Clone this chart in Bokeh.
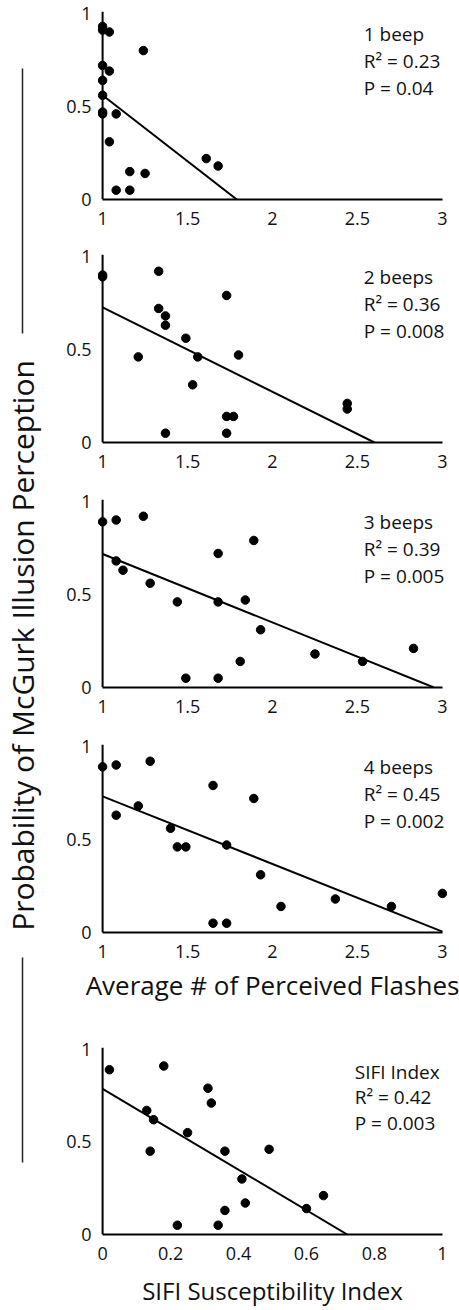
import math
from bokeh.plotting import figure
from bokeh.models import Range1d, FixedTicker, NumeralTickFormatter, Label, Span
from bokeh.layouts import row, column
from bokeh.embed import file_html
from bokeh.resources import INLINE

# ---------------- data ----------------
x_flash_ticks = [1, 1.5, 2, 2.5, 3]
x_sifi_ticks = [0, 0.2, 0.4, 0.6, 0.8, 1]
y_ticks = [0, 0.5, 1]

# 1 beep
x1 = [1.0, 1.0, 1.04, 1.24, 1.0, 1.04, 1.0, 1.0, 1.0, 1.0, 1.08, 1.04, 1.61, 1.68, 1.16, 1.25, 1.08, 1.16]
y1 = [0.93, 0.91, 0.90, 0.80, 0.72, 0.69, 0.64, 0.56, 0.47, 0.46, 0.46, 0.31, 0.22, 0.18, 0.15, 0.14, 0.05, 0.05]
fit1_x = [1.0, 1.79]
fit1_y = [0.56, 0.0]

# 2 beeps
x2 = [1.0, 1.0, 1.33, 1.73, 1.33, 1.37, 1.37, 1.49, 1.21, 1.56, 1.80, 1.53, 1.73, 1.77, 1.37, 1.73, 2.44, 2.44]
y2 = [0.90, 0.89, 0.92, 0.79, 0.72, 0.68, 0.63, 0.56, 0.46, 0.46, 0.47, 0.31, 0.14, 0.14, 0.05, 0.05, 0.21, 0.18]
fit2_x = [1.0, 2.60]
fit2_y = [0.726, 0.0]

# 3 beeps
x3 = [1.0, 1.08, 1.24, 1.89, 1.68, 1.08, 1.12, 1.28, 1.44, 1.68, 1.84, 1.93, 2.25, 1.81, 1.49, 1.68, 2.53, 2.83]
y3 = [0.89, 0.90, 0.92, 0.79, 0.72, 0.68, 0.63, 0.56, 0.46, 0.46, 0.47, 0.31, 0.18, 0.14, 0.05, 0.05, 0.14, 0.21]
fit3_x = [1.0, 2.95]
fit3_y = [0.717, 0.0]

# 4 beeps
x4 = [1.0, 1.08, 1.28, 1.65, 1.89, 1.21, 1.08, 1.40, 1.44, 1.49, 1.73, 1.93, 2.05, 2.37, 1.65, 1.73, 2.70, 3.0]
y4 = [0.89, 0.90, 0.92, 0.79, 0.72, 0.68, 0.63, 0.56, 0.46, 0.46, 0.47, 0.31, 0.14, 0.18, 0.05, 0.05, 0.14, 0.21]
fit4_x = [1.0, 3.0]
fit4_y = [0.731, 0.005]

# SIFI index
x5 = [0.02, 0.18, 0.31, 0.32, 0.13, 0.15, 0.25, 0.14, 0.36, 0.49, 0.41, 0.42, 0.36, 0.60, 0.65, 0.22, 0.34]
y5 = [0.89, 0.91, 0.79, 0.71, 0.67, 0.62, 0.55, 0.45, 0.45, 0.46, 0.30, 0.17, 0.13, 0.14, 0.21, 0.05, 0.05]
fit5_x = [0.0, 0.72]
fit5_y = [0.787, 0.0]

notes1 = ["1 beep", "R\u00b2 = 0.23", "P = 0.04"]
notes2 = ["2 beeps", "R\u00b2 = 0.36", "P = 0.008"]
notes3 = ["3 beeps", "R\u00b2 = 0.39", "P = 0.005"]
notes4 = ["4 beeps", "R\u00b2 = 0.45", "P = 0.002"]
notes5 = ["SIFI Index", "R\u00b2 = 0.42", "P = 0.003"]

y_title = "Probability of McGurk Illusion Perception"
x_title_flash = "Average # of Perceived Flashes"
x_title_sifi = "SIFI Susceptibility Index"

FONT = "Open Sans"
INK = "#111111"
LEFT_W = 46


def panel(xs, ys, fx, fy, xr, xt, pad, notes, note_x, note_ys,
          top, frame_h, bottom, xlabel=None, xlabel_size="26px", xlabel_standoff=6):
    p = figure(width=459 - LEFT_W, height=top + frame_h + bottom,
               x_range=Range1d(xr[0] - pad, xr[1] + pad),
               y_range=Range1d(0, 1.01),
               min_border_left=97 - LEFT_W, min_border_right=459 - LEFT_W - (97 - LEFT_W) - 350,
               min_border_top=top, min_border_bottom=bottom,
               output_backend="svg", toolbar_location=None)
    p.xgrid.visible = False
    p.ygrid.visible = False
    p.outline_line_color = None
    p.background_fill_color = "white"
    p.border_fill_color = "white"

    xa = p.xaxis[0]
    xa.ticker = FixedTicker(ticks=xt)
    xa.formatter = NumeralTickFormatter(format="0.[0]")
    xa.bounds = (xr[0], xr[1])
    ya = p.yaxis[0]
    ya.ticker = FixedTicker(ticks=y_ticks)
    ya.formatter = NumeralTickFormatter(format="0.[0]")
    ya.axis_line_color = None
    for ax in (xa, ya):
        ax.major_tick_out = 0
        ax.major_tick_in = 0
        ax.minor_tick_out = 0
        ax.minor_tick_in = 0
        ax.major_label_text_font = FONT
        ax.major_label_text_font_size = "18px"
        ax.major_label_text_color = INK
    xa.axis_line_width = 2
    xa.axis_line_color = "black"
    xa.major_label_standoff = 12
    ya.major_label_standoff = 6
    if xlabel:
        xa.axis_label = xlabel
        xa.axis_label_text_font = FONT
        xa.axis_label_text_font_size = xlabel_size
        xa.axis_label_text_font_style = "normal"
        xa.axis_label_text_color = INK
        xa.axis_label_standoff = xlabel_standoff

    # vertical axis line at the start of the x scale
    p.add_layout(Span(location=xr[0], dimension="height", line_width=2, line_color="black"))

    p.line(fx, fy, line_width=2, color="black")
    p.scatter(xs, ys, size=8.5, color="black")

    for t, yy in zip(notes, note_ys):
        p.add_layout(Label(x=note_x, y=yy, text=t, text_font=FONT,
                           text_font_size="19px", text_baseline="middle",
                           text_color=INK))
    return p


note_y = [0.887, 0.744, 0.60]
note_y5 = [0.877, 0.741, 0.60]

p1 = panel(x1, y1, fit1_x, fit1_y, (1, 3), x_flash_ticks, 0.03, notes1, 2.537, note_y, 11, 188, 40)
p2 = panel(x2, y2, fit2_x, fit2_y, (1, 3), x_flash_ticks, 0.03, notes2, 2.537, note_y, 15, 188, 40)
p3 = panel(x3, y3, fit3_x, fit3_y, (1, 3), x_flash_ticks, 0.03, notes3, 2.537, note_y, 17, 188, 40)
p4 = panel(x4, y4, fit4_x, fit4_y, (1, 3), x_flash_ticks, 0.03, notes4, 2.537, note_y, 17, 188, 98,
           xlabel=x_title_flash, xlabel_size="26px", xlabel_standoff=6)
p5 = panel(x5, y5, fit5_x, fit5_y, (0, 1), x_sifi_ticks, 0.015, notes5, 0.742, note_y5, 17, 187, 76,
           xlabel=x_title_sifi, xlabel_size="24px", xlabel_standoff=11)

# left shared title with bracket line
lf = figure(width=LEFT_W, height=1310, x_range=Range1d(0, LEFT_W), y_range=Range1d(1310, 0),
            x_axis_type=None, y_axis_type=None, min_border=0,
            output_backend="svg", toolbar_location=None)
lf.xgrid.visible = False
lf.ygrid.visible = False
lf.outline_line_color = None
lf.background_fill_color = "white"
lf.border_fill_color = "white"
lf.segment(x0=[22, 22], y0=[68, 957], x1=[22, 22], y1=[333, 1162], line_width=1.5, color="#222222")
lf.add_layout(Label(x=22, y=645, text=y_title, angle=math.pi / 2, text_align="center",
                    text_baseline="middle", text_font=FONT, text_font_size="30px",
                    text_color=INK))

layout = row(lf, column(p1, p2, p3, p4, p5))

open("out.html", "w").write(file_html(layout, INLINE))
